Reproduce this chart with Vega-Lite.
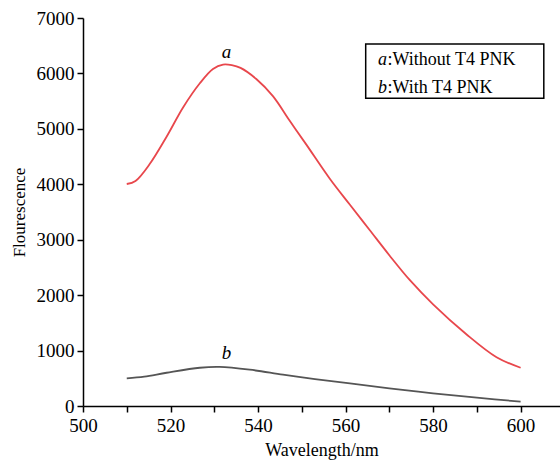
{
  "$schema": "https://vega.github.io/schema/vega-lite/v6.json",
  "width": 477,
  "height": 388,
  "autosize": {"type": "none"},
  "padding": {"left": 83, "top": 18, "right": 0, "bottom": 54},
  "background": "white",
  "config": {
    "view": {"stroke": null},
    "font": "Liberation Serif",
    "axis": {
      "domainColor": "black", "domainWidth": 1.5, "tickColor": "black", "tickWidth": 1.5, "tickSize": 6,
      "grid": false, "labelFont": "Liberation Serif", "labelFontSize": 19, "labelColor": "black",
      "titleFont": "Liberation Serif", "titleFontWeight": "normal", "titleColor": "black"
    }
  },
  "datasets": {
    "curves": [
      {"series": "a", "wavelength": 510, "fluorescence": 4005},
      {"series": "a", "wavelength": 512, "fluorescence": 4060},
      {"series": "a", "wavelength": 515.2, "fluorescence": 4360},
      {"series": "a", "wavelength": 519.1, "fluorescence": 4858},
      {"series": "a", "wavelength": 522.9, "fluorescence": 5390},
      {"series": "a", "wavelength": 526.7, "fluorescence": 5822},
      {"series": "a", "wavelength": 529.7, "fluorescence": 6080},
      {"series": "a", "wavelength": 532, "fluorescence": 6160},
      {"series": "a", "wavelength": 534, "fluorescence": 6150},
      {"series": "a", "wavelength": 536, "fluorescence": 6100},
      {"series": "a", "wavelength": 539.6, "fluorescence": 5900},
      {"series": "a", "wavelength": 543.4, "fluorescence": 5590},
      {"series": "a", "wavelength": 547.2, "fluorescence": 5150},
      {"series": "a", "wavelength": 551, "fluorescence": 4720},
      {"series": "a", "wavelength": 556.4, "fluorescence": 4100},
      {"series": "a", "wavelength": 561, "fluorescence": 3630},
      {"series": "a", "wavelength": 565.5, "fluorescence": 3175},
      {"series": "a", "wavelength": 570, "fluorescence": 2720},
      {"series": "a", "wavelength": 574.7, "fluorescence": 2270},
      {"series": "a", "wavelength": 580, "fluorescence": 1835},
      {"series": "a", "wavelength": 587.6, "fluorescence": 1295},
      {"series": "a", "wavelength": 594.5, "fluorescence": 880},
      {"series": "a", "wavelength": 600, "fluorescence": 690},
      {"series": "b", "wavelength": 510, "fluorescence": 500},
      {"series": "b", "wavelength": 514, "fluorescence": 530},
      {"series": "b", "wavelength": 519.1, "fluorescence": 600},
      {"series": "b", "wavelength": 526.7, "fluorescence": 690},
      {"series": "b", "wavelength": 531.2, "fluorescence": 705},
      {"series": "b", "wavelength": 538.1, "fluorescence": 655},
      {"series": "b", "wavelength": 545.7, "fluorescence": 565},
      {"series": "b", "wavelength": 553, "fluorescence": 485},
      {"series": "b", "wavelength": 561, "fluorescence": 408},
      {"series": "b", "wavelength": 570, "fluorescence": 318},
      {"series": "b", "wavelength": 580, "fluorescence": 228},
      {"series": "b", "wavelength": 590, "fluorescence": 150},
      {"series": "b", "wavelength": 600, "fluorescence": 78}
    ],
    "curveLabels": [
      {"series": "a", "wavelength": 532.8, "fluorescence": 6280},
      {"series": "b", "wavelength": 532.8, "fluorescence": 848}
    ],
    "legendBox": [
      {"x1": 564.6, "x2": 605.3, "y1": 6531, "y2": 5551}
    ],
    "legendText": [
      {"series": "a", "desc": ":Without T4 PNK", "xk": 567.4, "xd": 569.6, "y": 6152},
      {"series": "b", "desc": ":With T4 PNK", "xk": 567.4, "xd": 569.6, "y": 5641}
    ]
  },
  "layer": [
    {
      "data": {"name": "curves"},
      "mark": {"type": "line", "interpolate": "catmull-rom", "strokeWidth": 1.8},
      "encoding": {
        "x": {"field": "wavelength", "type": "quantitative",
              "scale": {"domain": [500, 609], "nice": false, "zero": false},
              "axis": {"values": [500, 510, 520, 530, 540, 550, 560, 570, 580, 590, 600],
                       "labelExpr": "datum.value % 20 == 0 ? datum.label : ''",
                       "labelPadding": 4, "labelFlush": false, "labelOverlap": false,
                       "title": "Wavelength/nm", "titleFontSize": 18, "titlePadding": 6}},
        "y": {"field": "fluorescence", "type": "quantitative",
              "scale": {"domain": [0, 7000], "nice": false},
              "axis": {"values": [0, 500, 1000, 1500, 2000, 2500, 3000, 3500, 4000, 4500, 5000, 5500, 6000, 6500, 7000],
                       "labelExpr": "datum.value % 1000 == 0 ? format(datum.value, 'd') : ''",
                       "labelPadding": 3, "labelFlush": false, "labelOverlap": false,
                       "title": "Flourescence", "titleFontSize": 17, "titlePadding": 8}},
        "color": {"field": "series", "type": "nominal",
                  "scale": {"domain": ["a", "b"], "range": ["#e8474c", "#555555"]}, "legend": null}
      }
    },
    {
      "mark": {"type": "rule", "color": "black", "strokeWidth": 1.5},
      "encoding": {"y": {"datum": 7000}}
    },
    {
      "data": {"name": "curveLabels"},
      "mark": {"type": "text", "fontStyle": "italic", "fontSize": 19, "baseline": "alphabetic", "align": "center", "color": "black"},
      "encoding": {
        "x": {"field": "wavelength", "type": "quantitative"},
        "y": {"field": "fluorescence", "type": "quantitative"},
        "text": {"field": "series"}
      }
    },
    {
      "data": {"name": "legendBox"},
      "mark": {"type": "rect", "fill": "white", "stroke": "black", "strokeWidth": 1.5},
      "encoding": {
        "x": {"field": "x1", "type": "quantitative"},
        "x2": {"field": "x2"},
        "y": {"field": "y1", "type": "quantitative"},
        "y2": {"field": "y2"}
      }
    },
    {
      "data": {"name": "legendText"},
      "mark": {"type": "text", "fontStyle": "italic", "fontSize": 18, "baseline": "alphabetic", "align": "left", "color": "black"},
      "encoding": {
        "x": {"field": "xk", "type": "quantitative"},
        "y": {"field": "y", "type": "quantitative"},
        "text": {"field": "series"}
      }
    },
    {
      "data": {"name": "legendText"},
      "mark": {"type": "text", "fontSize": 18, "baseline": "alphabetic", "align": "left", "color": "black"},
      "encoding": {
        "x": {"field": "xd", "type": "quantitative"},
        "y": {"field": "y", "type": "quantitative"},
        "text": {"field": "desc"}
      }
    }
  ]
}
